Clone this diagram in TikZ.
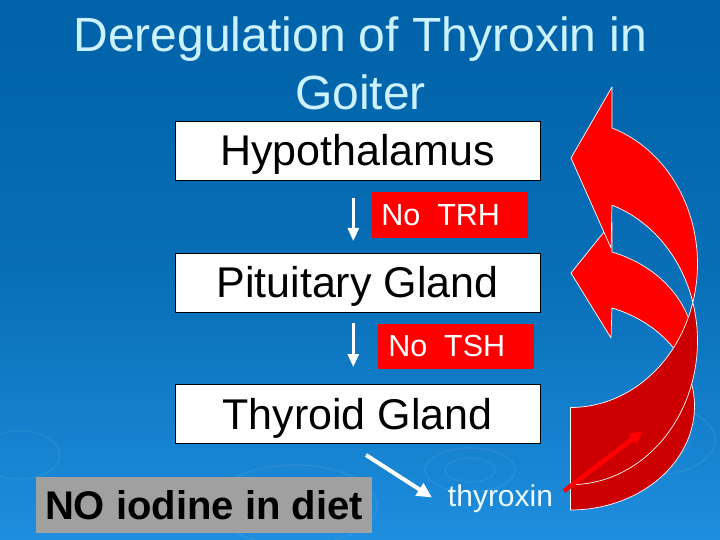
\documentclass[tikz,border=0pt]{standalone}
\usepackage{fontspec}
\setmainfont{Liberation Sans}
\usetikzlibrary{arrows.meta}
\definecolor{bgtop}{RGB}{0,98,168}
\definecolor{bgmid}{RGB}{8,110,182}
\definecolor{bgbot}{RGB}{30,142,222}
\definecolor{titlecol}{RGB}{204,242,255}
\definecolor{lred}{RGB}{255,0,0}
\definecolor{dred}{RGB}{204,0,0}
\definecolor{boxgray}{RGB}{160,160,160}
\definecolor{labelwhite}{RGB}{235,250,255}
\tikzset{
  titletext/.style={font=\fontsize{48pt}{57.6pt}\selectfont, text=titlecol, inner sep=0pt},
  whitebox/.style={draw=black, line width=0.8pt, fill=white, minimum width=365pt, minimum height=59pt,
    inner sep=0pt, font=\fontsize{43pt}{50pt}\selectfont, text height=30.8pt, text depth=0pt},
  redbox/.style={fill=lred, minimum width=156pt, minimum height=45pt, inner sep=0pt},
  redlabel/.style={font=\fontsize{30.5pt}{36pt}\selectfont, text=white, inner sep=0pt, text height=21.8pt, text depth=0pt},
  graybox/.style={fill=boxgray, minimum width=336pt, minimum height=56pt, inner sep=0pt,
    font=\bfseries\fontsize{40pt}{46pt}\selectfont, text height=28.6pt, text depth=0pt},
  downarrow/.style={draw=white, line width=2.7pt, -{Triangle[width=11pt,length=13pt]}},
  diagarrow/.style={draw=white, line width=4pt, -{Triangle[width=14pt,length=15pt]}},
  redarrow/.style={draw=lred, line width=4.5pt, -{Triangle[width=13pt,length=12pt]}},
  darkpart/.style={fill=dred, draw=white, line width=0.7pt, line join=round},
  lightpart/.style={fill=lred, draw=white, line width=0.7pt, line join=round},
  ripple/.style={draw=white, opacity=0.06, line width=1.6pt}
}
\begin{document}
\begin{tikzpicture}[x=1pt, y=-1pt]
\useasboundingbox (0,0) rectangle (720,540);
\shade[top color=bgtop, bottom color=bgbot, middle color=bgmid] (0,0) rectangle (720,540);

% faint ripples
\draw[ripple] (295,505) ellipse [x radius=30, y radius=14];
\draw[ripple] (295,505) ellipse [x radius=55, y radius=27];
\draw[ripple] (295,505) ellipse [x radius=82, y radius=40];
\draw[ripple] (470,470) ellipse [x radius=25, y radius=12];
\draw[ripple] (470,470) ellipse [x radius=45, y radius=22];
\draw[ripple] (650,440) ellipse [x radius=40, y radius=22];
\draw[ripple] (650,440) ellipse [x radius=65, y radius=36];
\draw[ripple] (20,455) ellipse [x radius=40, y radius=24];

% title
\node[titletext, anchor=base] (title1) at (360.4,51.7) {Deregulation of Thyroxin in};
\node[titletext, anchor=base] (title2) at (360.4,109.3) {Goiter};

% boxes
\node[whitebox] (hyp) at (357.5,150.5) {Hypothalamus};
\node[whitebox] (pit) at (357.5,282.5) {Pituitary Gland};
\node[whitebox] (thy) at (357.5,414) {Thyroid Gland};

\node[redbox] (trhbox) at (450,215) {};
\node[redlabel] (trh) at (440.7,215) {No\ \ TRH};
\node[redbox] (tshbox) at (456.2,346.7) {};
\node[redlabel] (tsh) at (446.8,346) {No\ \ TSH};

\coordinate (trhA) at (353.3,198);
\coordinate (trhB) at (353.3,241);
\coordinate (tshA) at (353.3,323);
\coordinate (tshB) at (353.3,367);
\draw[downarrow] (trhA) -- (trhB);
\draw[downarrow] (tshA) -- (tshB);

\node[graybox] (iod) at (203.9,504.7) {NO iodine in diet};

\node[font=\fontsize{30pt}{36pt}\selectfont, text=labelwhite, inner sep=0pt, anchor=base] (thyx) at (500.5,506.7) {thyroxin};

\coordinate (dA) at (366,455);
\coordinate (dB) at (432,497.5);
\draw[diagarrow] (dA) -- (dB);

% curved arrow B (lower)
\path[darkpart] plot[variable=\t, domain=90:15.62, samples=40] ({570.5+124*cos(\t)},{350+104*sin(\t)})
  -- plot[variable=\t, domain=-15.62:90, samples=40] ({570.5+124*cos(\t)},{406+104*sin(\t)}) -- cycle;
\path[lightpart] plot[variable=\t, domain=15.62:-70.45, samples=40] ({570.5+124*cos(\t)},{350+104*sin(\t)})
  -- (612,222) -- (571,273) -- (611,338)
  -- plot[variable=\t, domain=-70.45:-15.62, samples=40] ({570.5+124*cos(\t)},{406+104*sin(\t)}) -- cycle;

% curved arrow A (upper)
\path[darkpart] plot[variable=\t, domain=90:15.58, samples=40] ({570.5+127*cos(\t)},{263.8+143.7*sin(\t)})
  -- plot[variable=\t, domain=-15.58:90, samples=40] ({570.5+127*cos(\t)},{341+143.7*sin(\t)}) -- cycle;
\path[lightpart] plot[variable=\t, domain=15.58:-70.93, samples=40] ({570.5+127*cos(\t)},{263.8+143.7*sin(\t)})
  -- (612,87) -- (571,158) -- (611,248)
  -- plot[variable=\t, domain=-70.93:-15.58, samples=40] ({570.5+127*cos(\t)},{341+143.7*sin(\t)}) -- cycle;

% small red arrow
\coordinate (rA) at (564,491);
\coordinate (rB) at (642,431.7);
\draw[redarrow] (rA) -- (rB);
\end{tikzpicture}
\end{document}
